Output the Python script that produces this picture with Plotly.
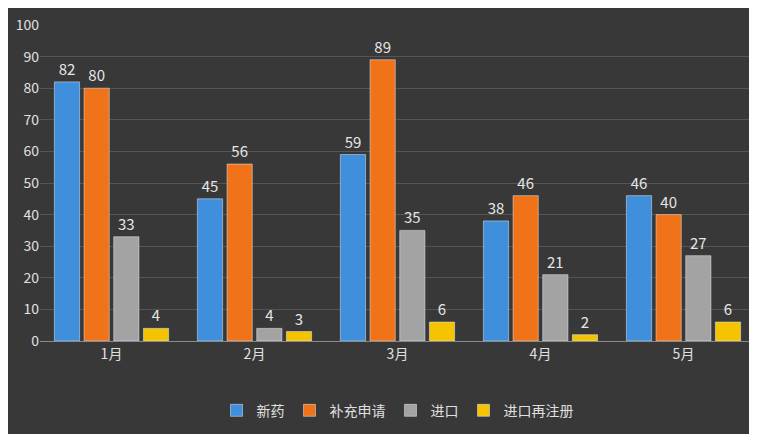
import plotly.graph_objects as go

months = ["1月", "2月", "3月", "4月", "5月"]
xinyao = [82, 45, 59, 38, 46]
buchong = [80, 56, 89, 46, 40]
jinkou = [33, 4, 35, 21, 27]
zaizhuce = [4, 3, 6, 2, 6]

series = [
    ("新药", xinyao, "#3f8fdc"),
    ("补充申请", buchong, "#f07219"),
    ("进口", jinkou, "#a3a3a3"),
    ("进口再注册", zaizhuce, "#f5c400"),
]

fig = go.Figure()
for name, vals, color in series:
    fig.add_trace(go.Bar(
        x=months, y=vals, name=name, marker_color=color,
        text=vals, textposition="outside",
        textfont=dict(color="#e6e6e6", size=15), cliponaxis=False,
    ))

fig.update_layout(
    width=749, height=426,
    paper_bgcolor="#383838", plot_bgcolor="#383838",
    font=dict(family="Noto Sans CJK SC", color="#e0e0e0", size=14),
    margin=dict(l=32, r=2, t=17, b=93),
    barmode="group", bargap=0.17, bargroupgap=0.15,
    legend=dict(orientation="h", x=0.5, xanchor="center", y=-0.17, yanchor="top",
                font=dict(size=14, color="#e0e0e0"), itemwidth=30),
    yaxis=dict(range=[0, 100], dtick=10, gridcolor="#555555", zeroline=False,
               showline=False, ticks="", tickfont=dict(size=14)),
    xaxis=dict(showline=True, linecolor="#8a8a8a", tickfont=dict(size=14)),
)

fig.write_html("out.html")
